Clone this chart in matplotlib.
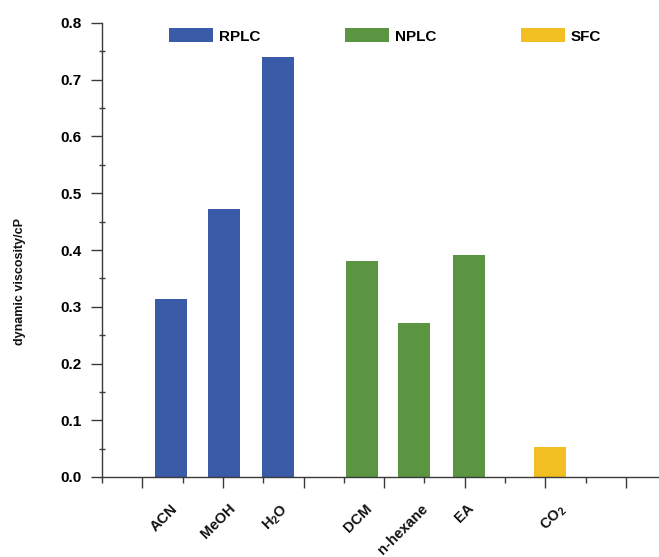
import matplotlib
matplotlib.use("Agg")
import matplotlib.pyplot as plt
from matplotlib.patches import Patch
from matplotlib.ticker import MultipleLocator, FixedLocator

plt.rcParams["font.family"] = ["Liberation Sans", "DejaVu Sans"]
plt.rcParams["font.weight"] = "bold"
plt.rcParams["mathtext.fontset"] = "custom"
plt.rcParams["mathtext.rm"] = "Liberation Sans:bold"
plt.rcParams["mathtext.it"] = "Liberation Sans:bold"
plt.rcParams["mathtext.bf"] = "Liberation Sans:bold"

# Solvents, their dynamic viscosity (cP) and the separation mode they belong to
solvents = ["ACN", "MeOH", "H$_2$O", "DCM", "n-hexane", "EA", "CO$_2$"]
viscosity = [0.313, 0.473, 0.740, 0.381, 0.271, 0.392, 0.052]
modes = ["RPLC", "RPLC", "RPLC", "NPLC", "NPLC", "NPLC", "SFC"]
mode_names = ["RPLC", "NPLC", "SFC"]

mode_colors = {"RPLC": "#3a5ba8", "NPLC": "#5b9541", "SFC": "#f2bf22"}
bar_pos = [1.71, 3.03, 4.37, 6.45, 7.74, 9.11, 11.12]
bar_width = 0.79
# horizontal nudge (points) of each rotated category name
label_dx = [7.0, 10.0, 10.0, 9.0, 12.0, 5.0, 14.0]

W, H = 659, 557
fig = plt.figure(figsize=(W / 100, H / 100), dpi=100)
ax = fig.add_axes([102 / W, (H - 477) / H, (W - 102) / W, (477 - 23) / H])

ax.bar(bar_pos, viscosity, width=bar_width,
       color=[mode_colors[m] for m in modes], linewidth=0, zorder=2)

ax.set_xlim(0, 13.82)
ax.set_ylim(0, 0.8)

for side in ("top", "right"):
    ax.spines[side].set_visible(False)
for side in ("left", "bottom"):
    ax.spines[side].set_color("#3a3a3a")
    ax.spines[side].set_linewidth(1.0)

# y axis: labelled every 0.1, minor marks in between
ax.yaxis.set_major_locator(MultipleLocator(0.1))
ax.yaxis.set_minor_locator(MultipleLocator(0.05))
ax.yaxis.set_major_formatter(matplotlib.ticker.FormatStrFormatter("%.1f"))
ax.tick_params(axis="y", which="major", direction="out", length=8, width=1.0,
               color="#3a3a3a", pad=7, labelsize=11)
ax.tick_params(axis="y", which="minor", direction="inout", length=5, width=1.0,
               color="#3a3a3a")

# x axis: plain tick marks, category names placed under the bars
ax.xaxis.set_major_locator(FixedLocator([1, 3, 5, 7, 9, 11, 13]))
ax.xaxis.set_minor_locator(FixedLocator([0, 2, 4, 6, 8, 10, 12]))
ax.tick_params(axis="x", which="major", direction="out", length=8, width=1.0,
               color="#3a3a3a", labelbottom=False)
ax.tick_params(axis="x", which="minor", direction="out", length=4, width=1.0,
               color="#3a3a3a")

for x, name, dx in zip(bar_pos, solvents, label_dx):
    ax.annotate(name, xy=(x, 0), xycoords="data",
                xytext=(dx, -17.5), textcoords="offset points",
                rotation=45, ha="right", va="top",
                fontsize=10.5, fontweight="bold", color="#111111")

fig.text(20 / W, 1 - 281.5 / H, "dynamic viscosity/cP", rotation=90,
         ha="center", va="center", fontsize=9, fontweight="bold",
         color="#111111")

handles = [Patch(facecolor=mode_colors[m], edgecolor="none", label=m)
           for m in mode_names]
fig.legend(handles=handles, loc="center left",
           bbox_to_anchor=(169 / W, 1 - 36 / H), ncol=3, frameon=False,
           borderpad=0, borderaxespad=0, handlelength=2.9, handleheight=1.0,
           handletextpad=0.4, columnspacing=5.5,
           prop={"size": 11, "weight": "bold"})

fig.savefig("out.png", dpi=100)
